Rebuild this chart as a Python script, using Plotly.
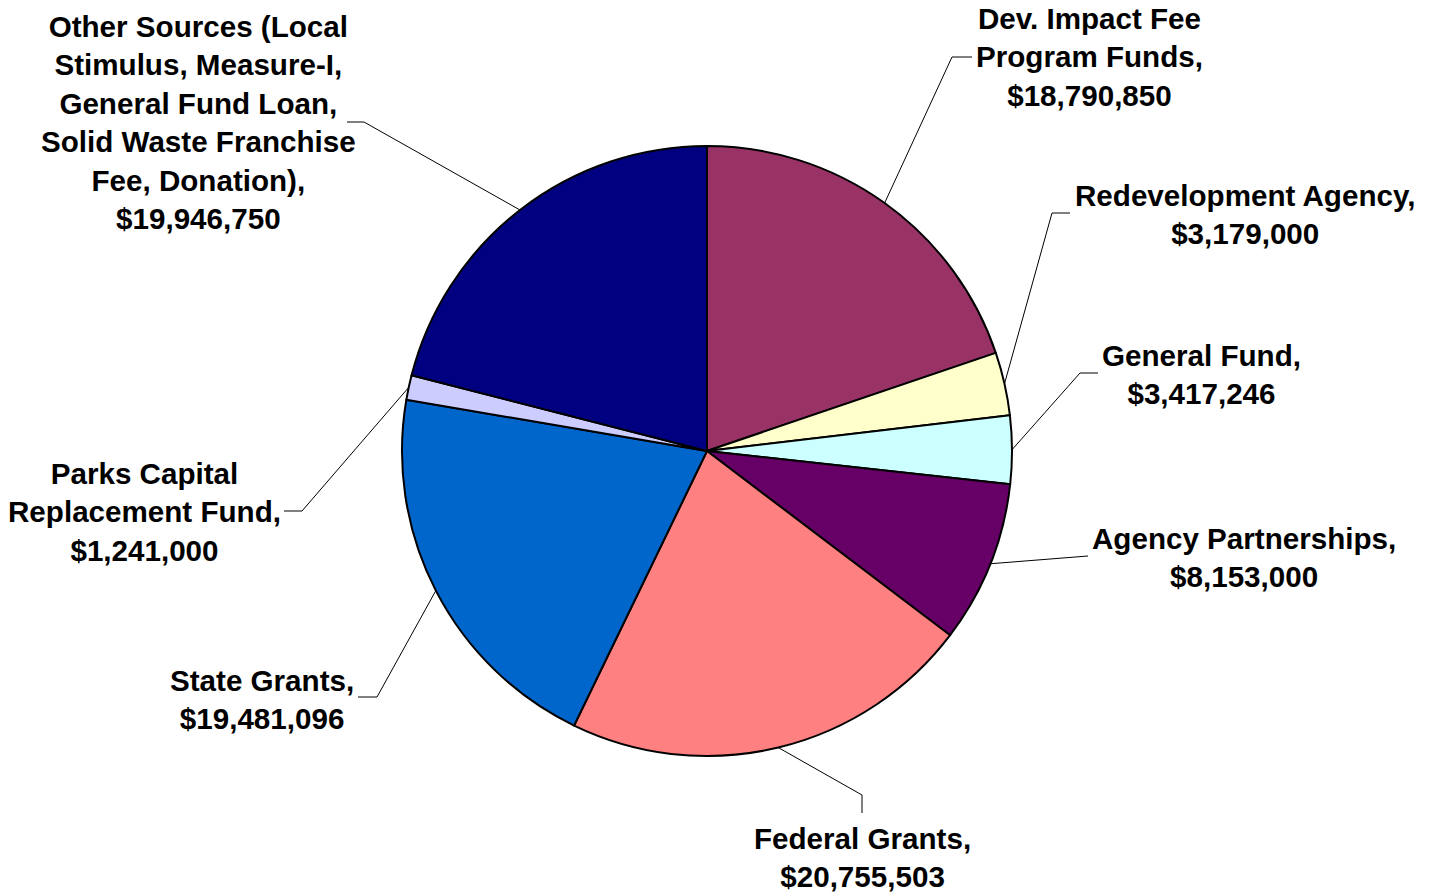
import math
import plotly.graph_objects as go

# ---- data ----
categories = [
    "Dev. Impact Fee<br>Program Funds,",
    "Redevelopment Agency,",
    "General Fund,",
    "Agency Partnerships,",
    "Federal Grants,",
    "State Grants,",
    "Parks Capital<br>Replacement Fund,",
    "Other Sources (Local<br>Stimulus, Measure-I,<br>General Fund Loan,<br>Solid Waste Franchise<br>Fee, Donation),",
]
values = [18790850, 3179000, 3417246, 8153000, 20755503, 19481096, 1241000, 19946750]
colors = ["#993366", "#FFFFCC", "#CCFFFF", "#660066", "#FF8080", "#0066CC", "#CCCCFF", "#000080"]

# ---- layout / style (pixels) ----
W, H = 1431, 893
CX, CY, R = 707, 451, 305
# label text centers
label_pos = [(1089, 57), (1245, 214), (1201, 374), (1244, 557),
             (862, 857), (262, 699), (144, 512), (198, 122)]
# leader line elbow and end points
elbows = [(952, 57), (1052, 213), (1080, 373), (1088, 556),
          (862, 795), (377, 697), (302, 511), (364, 122)]
ends = [(972, 57), (1070, 213), (1098, 373), (1088, 556),
        (862, 813), (358, 697), (284, 511), (347, 122)]
FONT = "Liberation Sans, Arial, sans-serif"
FS = 29.6


def px(x):
    return x / W


def py(y):
    return 1 - y / H


fig = go.Figure()
fig.add_trace(go.Pie(
    values=values,
    labels=[c.replace("<br>", " ") for c in categories],
    marker=dict(colors=colors, line=dict(color="#000000", width=2)),
    sort=False,
    direction="clockwise",
    rotation=0,
    textinfo="none",
    hoverinfo="label+value",
    showlegend=False,
    domain=dict(x=[px(CX - R), px(CX + R)], y=[py(CY + R), py(CY - R)]),
))

total = sum(values)
cum = 0
shapes = []
annotations = []
for i, v in enumerate(values):
    mid = (cum + v / 2) / total * 2 * math.pi
    cum += v
    sx = CX + R * math.sin(mid)
    sy = CY - R * math.cos(mid)
    ex, ey = elbows[i]
    fx, fy = ends[i]
    line = dict(color="#000000", width=1)
    shapes.append(dict(type="line", xref="paper", yref="paper",
                       x0=px(sx), y0=py(sy), x1=px(ex), y1=py(ey), line=line))
    if (ex, ey) != (fx, fy):
        shapes.append(dict(type="line", xref="paper", yref="paper",
                           x0=px(ex), y0=py(ey), x1=px(fx), y1=py(fy), line=line))
    lx, ly = label_pos[i]
    annotations.append(dict(
        x=px(lx), y=py(ly), xref="paper", yref="paper",
        xanchor="center", yanchor="middle", align="center",
        showarrow=False,
        text=f"<b>{categories[i]}<br>${v:,}</b>",
        font=dict(family=FONT, size=FS, color="#000000"),
    ))

fig.update_layout(
    width=W, height=H,
    margin=dict(l=0, r=0, t=0, b=0),
    paper_bgcolor="#FFFFFF",
    plot_bgcolor="#FFFFFF",
    shapes=shapes,
    annotations=annotations,
)

fig.write_html("out.html", config={"displayModeBar": False},
               post_script="document.body.style.margin='0';")
